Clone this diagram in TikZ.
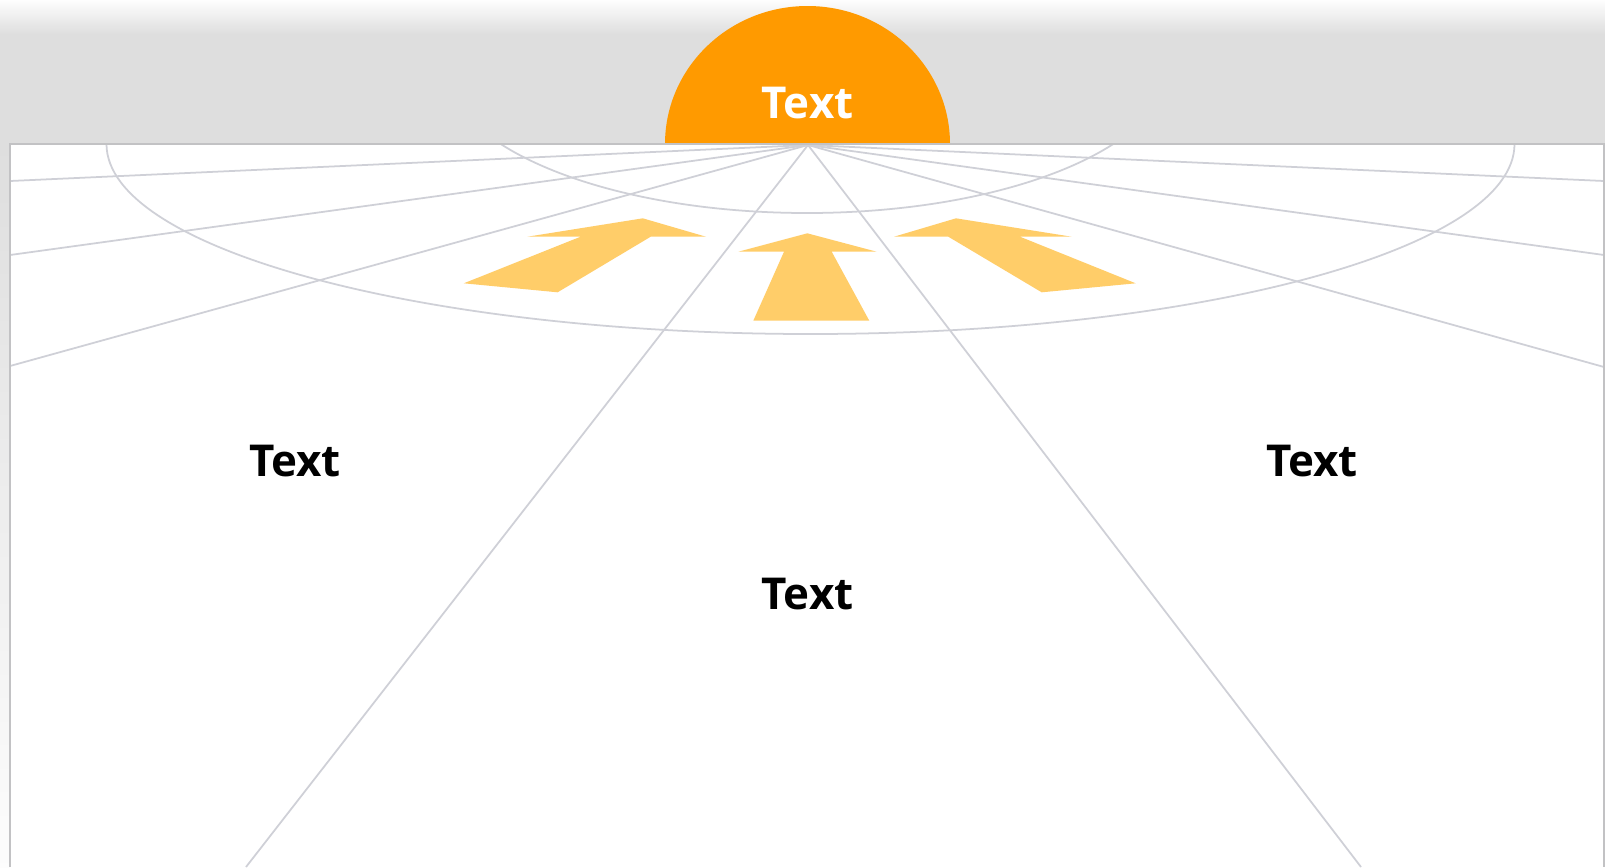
\documentclass[tikz,border=0pt]{standalone}
\usepackage{fontspec}
\setmainfont{Open Sans}
\usepackage{tikz}
\usetikzlibrary{positioning,calc}
\definecolor{sunorange}{HTML}{FF9A00}
\definecolor{arrowyellow}{HTML}{FFCD69}
\definecolor{gridgray}{HTML}{CFD0D7}
\definecolor{framegray}{HTML}{C2C2C4}
\definecolor{bggray}{HTML}{DEDEDE}
\tikzset{
  ray/.style={draw=gridgray, line width=1pt},
  ring/.style={draw=gridgray, line width=1pt},
  flatarrow/.style={fill=arrowyellow, draw=none},
  lbl/.style={font=\fontsize{25}{30}\selectfont\bfseries, text=black, inner sep=0pt},
}

\begin{document}
\begin{tikzpicture}[x=0.02cm, y=-0.02cm,
  sunlbl/.style={lbl, text=white}]
  \useasboundingbox (0,0) rectangle (1605,867);
  \fill[bggray] (0,0) rectangle (1605,867);
  \shade[top color=white!96!bggray, bottom color=bggray] (0,0) rectangle (1605,34);
  \shade[top color=bggray, bottom color=white!93!bggray] (0,144) rectangle (10,867);
  \begin{scope}
    \clip (0,0) rectangle (1605,144);
    \fill[sunorange] (807.5,144) ellipse [x radius=142.5, y radius=138];
  \end{scope}
  \node[sunlbl] (sun) at (807.5,103) {Text};
  \fill[white] (10,144) rectangle (1604,867);
  \coordinate (apex) at (808,145);
  \coordinate (l1) at (10,181);
  \coordinate (l2) at (10,255);
  \coordinate (l3) at (10,366);
  \coordinate (l4) at (246,867);
  \coordinate (r1) at (1604,181);
  \coordinate (r2) at (1604,255);
  \coordinate (r3) at (1604,367);
  \coordinate (r4) at (1361,867);
  \begin{scope}
    \clip (10,144) rectangle (1604,867);
    \draw[ray] (apex) -- (l1);
    \draw[ray] (apex) -- (l2);
    \draw[ray] (apex) -- (l3);
    \draw[ray] (apex) -- (l4);
    \draw[ray] (apex) -- (r1);
    \draw[ray] (apex) -- (r2);
    \draw[ray] (apex) -- (r3);
    \draw[ray] (apex) -- (r4);
    \draw[ring] (807,64) ellipse [x radius=363, y radius=149];
    \draw[ring] (810.5,144) ellipse [x radius=704, y radius=190];
  \end{scope}
  \fill[flatarrow] (642.8,218.3) -- (706,236.7) -- (650.7,236.7) -- (557.6,292.3)
    -- (463.8,283.3) -- (580.6,236.7) -- (527.4,236.7) -- cycle;
  \fill[flatarrow] (807.3,233.3) -- (876.7,251.7) -- (831.7,251.7) -- (869.3,320.7)
    -- (753.3,320.7) -- (784,251.7) -- (738.3,251.7) -- cycle;
  \fill[flatarrow] (956,218.3) -- (894,236.7) -- (948.3,236.7) -- (1041.7,292.3)
    -- (1135.7,283.3) -- (1020,236.7) -- (1071.7,236.7) -- cycle;
  \draw[framegray, line width=1pt] (10,867) -- (10,144) -- (1604,144) -- (1604,867);
  \node[lbl] (leftlbl) at (295,461) {Text};
  \node[lbl] (rightlbl) at (1312,461) {Text};
  \node[lbl] (midlbl) at (807.5,594) {Text};
\end{tikzpicture}
\end{document}
